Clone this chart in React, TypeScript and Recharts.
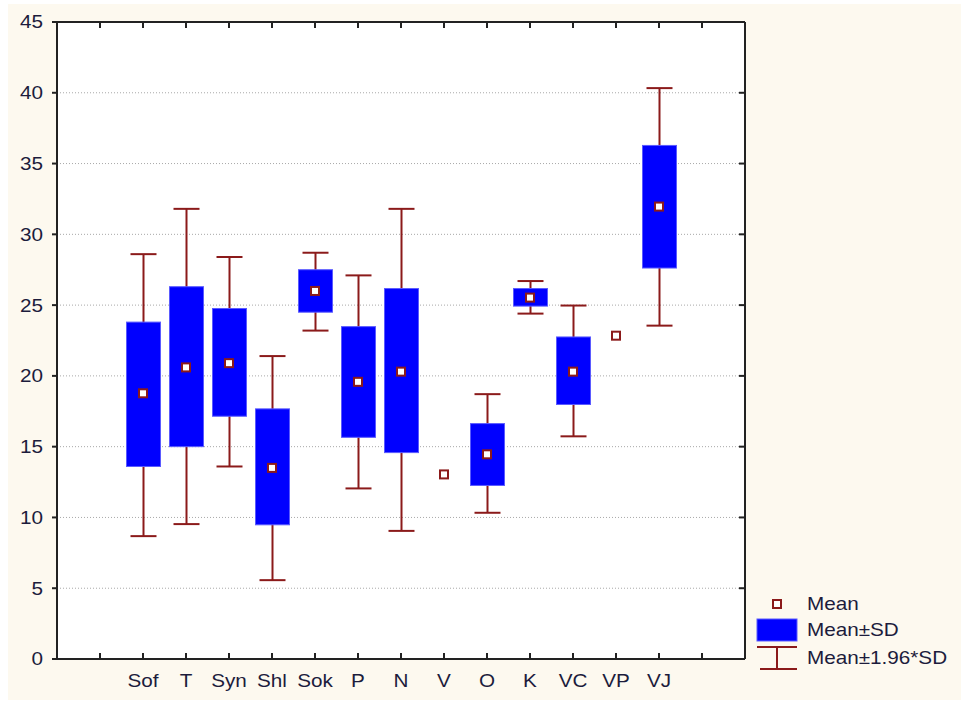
import React from 'react';
import { ComposedChart, XAxis, YAxis, CartesianGrid, Bar, Scatter } from 'recharts';

const categories = ['Sof', 'T', 'Syn', 'Shl', 'Sok', 'P', 'N', 'V', 'O', 'K', 'VC', 'VP', 'VJ'];
const means = [18.77, 20.6, 20.9, 13.5, 26.0, 19.58, 20.3, 13.04, 14.46, 25.53, 20.3, 22.84, 31.96];
const sdLow = [13.6, 15.0, 17.15, 9.48, 24.5, 15.66, 14.58, null, 12.26, 24.93, 17.98, null, 27.62];
const sdHigh = [23.8, 26.3, 24.76, 17.67, 27.5, 23.48, 26.17, null, 16.63, 26.17, 22.75, null, 36.28];
const ciLow = [8.68, 9.53, 13.6, 5.57, 23.2, 12.05, 9.05, null, 10.33, 24.4, 15.73, null, 23.55];
const ciHigh = [28.6, 31.8, 28.4, 21.4, 28.7, 27.1, 31.8, null, 18.71, 26.7, 24.97, null, 40.33];
const yTicks = [0, 5, 10, 15, 20, 25, 30, 35, 40, 45];
const xTicks = [1, 2, 3, 4, 5, 6, 7, 8, 9, 10, 11, 12, 13, 14, 15];

const OFFSET = 2;
const data = categories.map((c, i) => ({
  x: i + OFFSET,
  name: c,
  mean: means[i],
  box: sdLow[i] == null ? null : [sdLow[i], sdHigh[i]],
  whisk: ciLow[i] == null ? null : [ciLow[i], ciHigh[i]],
}));

const RED = '#8b1a1a';
const BLUE = '#0000ff';
const TEXT = '#1c1c3c';
const FONT = '"Liberation Sans", Arial, sans-serif';
const FS = 18;
const SX = 1.15;
const AXIS = { stroke: '#222', strokeWidth: 2 };

const WhiskerShape = (p: any) => {
  const { x, y, width, height } = p;
  if (x == null || y == null || !isFinite(height)) return <g />;
  const top = Math.min(y, y + height);
  const bot = Math.max(y, y + height);
  const cx = x + width / 2;
  const hw = 13;
  return (
    <g stroke={RED} strokeWidth={2} fill="none">
      <line x1={cx} x2={cx} y1={top} y2={bot} />
      <line x1={cx - hw} x2={cx + hw} y1={top} y2={top} />
      <line x1={cx - hw} x2={cx + hw} y1={bot} y2={bot} />
    </g>
  );
};

const BoxShape = (p: any) => {
  const { x, y, width, height } = p;
  if (x == null || y == null || !isFinite(height)) return <g />;
  const top = Math.min(y, y + height);
  const h = Math.abs(height);
  return <rect x={x} y={top} width={width} height={h} fill={BLUE} stroke="#5a5aff" strokeWidth={1} />;
};

const MeanShape = (p: any) => {
  const { cx, cy } = p;
  if (cx == null || cy == null) return <g />;
  return <rect x={cx - 4} y={cy - 4} width={8} height={8} fill="#ffffff" stroke={RED} strokeWidth={2} />;
};

const labelFor = (v: number) => categories[v - OFFSET] ?? '';

const EmptyTick = () => <g />;

const XTick = (p: any) => {
  const { x, y, payload } = p;
  const label = labelFor(payload.value);
  if (!label) return <g />;
  return (
    <g transform={`translate(${x},${y + 28}) scale(${SX},1)`}>
      <text x={0} y={0} textAnchor="middle" fontSize={FS} fill={TEXT} fontFamily={FONT}>{label}</text>
    </g>
  );
};

const YTick = (p: any) => {
  const { x, y, payload } = p;
  return (
    <g transform={`translate(${x},${y}) scale(${SX},1)`}>
      <text x={0} y={0} dy="0.36em" textAnchor="end" fontSize={FS} fill={TEXT} fontFamily={FONT}>{payload.value}</text>
    </g>
  );
};

const LegendText = ({ x, y, children }: any) => (
  <g transform={`translate(${x},${y}) scale(${SX},1)`}>
    <text x={0} y={0} fontSize={FS} fill={TEXT} fontFamily={FONT}>{children}</text>
  </g>
);

export default function App() {
  return (
    <div style={{ position: 'absolute', left: 0, top: 0, width: 961, height: 704, background: '#ffffff', fontFamily: FONT }}>
      <div style={{ position: 'absolute', left: 8, top: 4, width: 953, height: 696, background: '#fdf9ef' }} />
      <div style={{ position: 'absolute', left: 57, top: 23, width: 687, height: 635, background: '#ffffff' }} />
      <div style={{ position: 'absolute', left: 0, top: 0 }}>
        <ComposedChart
          width={961}
          height={704}
          data={data}
          margin={{ top: 22, right: 216, bottom: 15, left: 0 }}
        >
          <CartesianGrid horizontal vertical={false} stroke="#a8a8a8" strokeDasharray="1 2" />
          <XAxis
            dataKey="x"
            type="number"
            domain={[0, 16]}
            ticks={xTicks}
            height={1}
            mirror
            tick={EmptyTick}
            tickSize={6}
            axisLine={AXIS}
            tickLine={AXIS}
            interval={0}
          />
          <XAxis
            xAxisId="labels"
            dataKey="x"
            type="number"
            domain={[0, 16]}
            ticks={xTicks}
            height={30}
            axisLine={false}
            tickLine={false}
            tickSize={0}
            tickMargin={0}
            tick={XTick}
            interval={0}
          />
          <XAxis
            xAxisId="top"
            dataKey="x"
            type="number"
            orientation="top"
            domain={[0, 16]}
            ticks={xTicks}
            height={1}
            mirror
            tick={EmptyTick}
            tickSize={6}
            axisLine={AXIS}
            tickLine={AXIS}
            interval={0}
          />
          <YAxis
            type="number"
            domain={[0, 45]}
            ticks={yTicks}
            width={57}
            tickSize={5}
            tickMargin={9}
            axisLine={AXIS}
            tickLine={AXIS}
            tick={YTick}
            interval={0}
          />
          <YAxis
            yAxisId="right"
            orientation="right"
            type="number"
            domain={[0, 45]}
            ticks={yTicks}
            width={1}
            mirror
            tick={EmptyTick}
            tickSize={6}
            axisLine={AXIS}
            tickLine={AXIS}
            interval={0}
          />
          <Bar xAxisId="top" dataKey="whisk" barSize={34} shape={WhiskerShape} isAnimationActive={false} />
          <Bar dataKey="box" barSize={34} shape={BoxShape} isAnimationActive={false} />
          <Scatter yAxisId="right" dataKey="mean" shape={MeanShape} isAnimationActive={false} />
        </ComposedChart>
      </div>
      <svg style={{ position: 'absolute', left: 0, top: 0 }} width={961} height={704} pointerEvents="none">
        <rect x={773} y={600} width={8} height={8} fill="#ffffff" stroke={RED} strokeWidth={2} />
        <LegendText x={807} y={610}>Mean</LegendText>
        <rect x={757} y={619} width={40} height={22} fill={BLUE} stroke="#5a5aff" strokeWidth={1} />
        <LegendText x={807} y={636}>Mean±SD</LegendText>
        <g stroke={RED} strokeWidth={2}>
          <line x1={757} x2={797} y1={647} y2={647} />
          <line x1={777} x2={777} y1={647} y2={669} />
          <line x1={760} x2={797} y1={669} y2={669} />
        </g>
        <LegendText x={807} y={664}>Mean±1.96*SD</LegendText>
      </svg>
    </div>
  );
}
